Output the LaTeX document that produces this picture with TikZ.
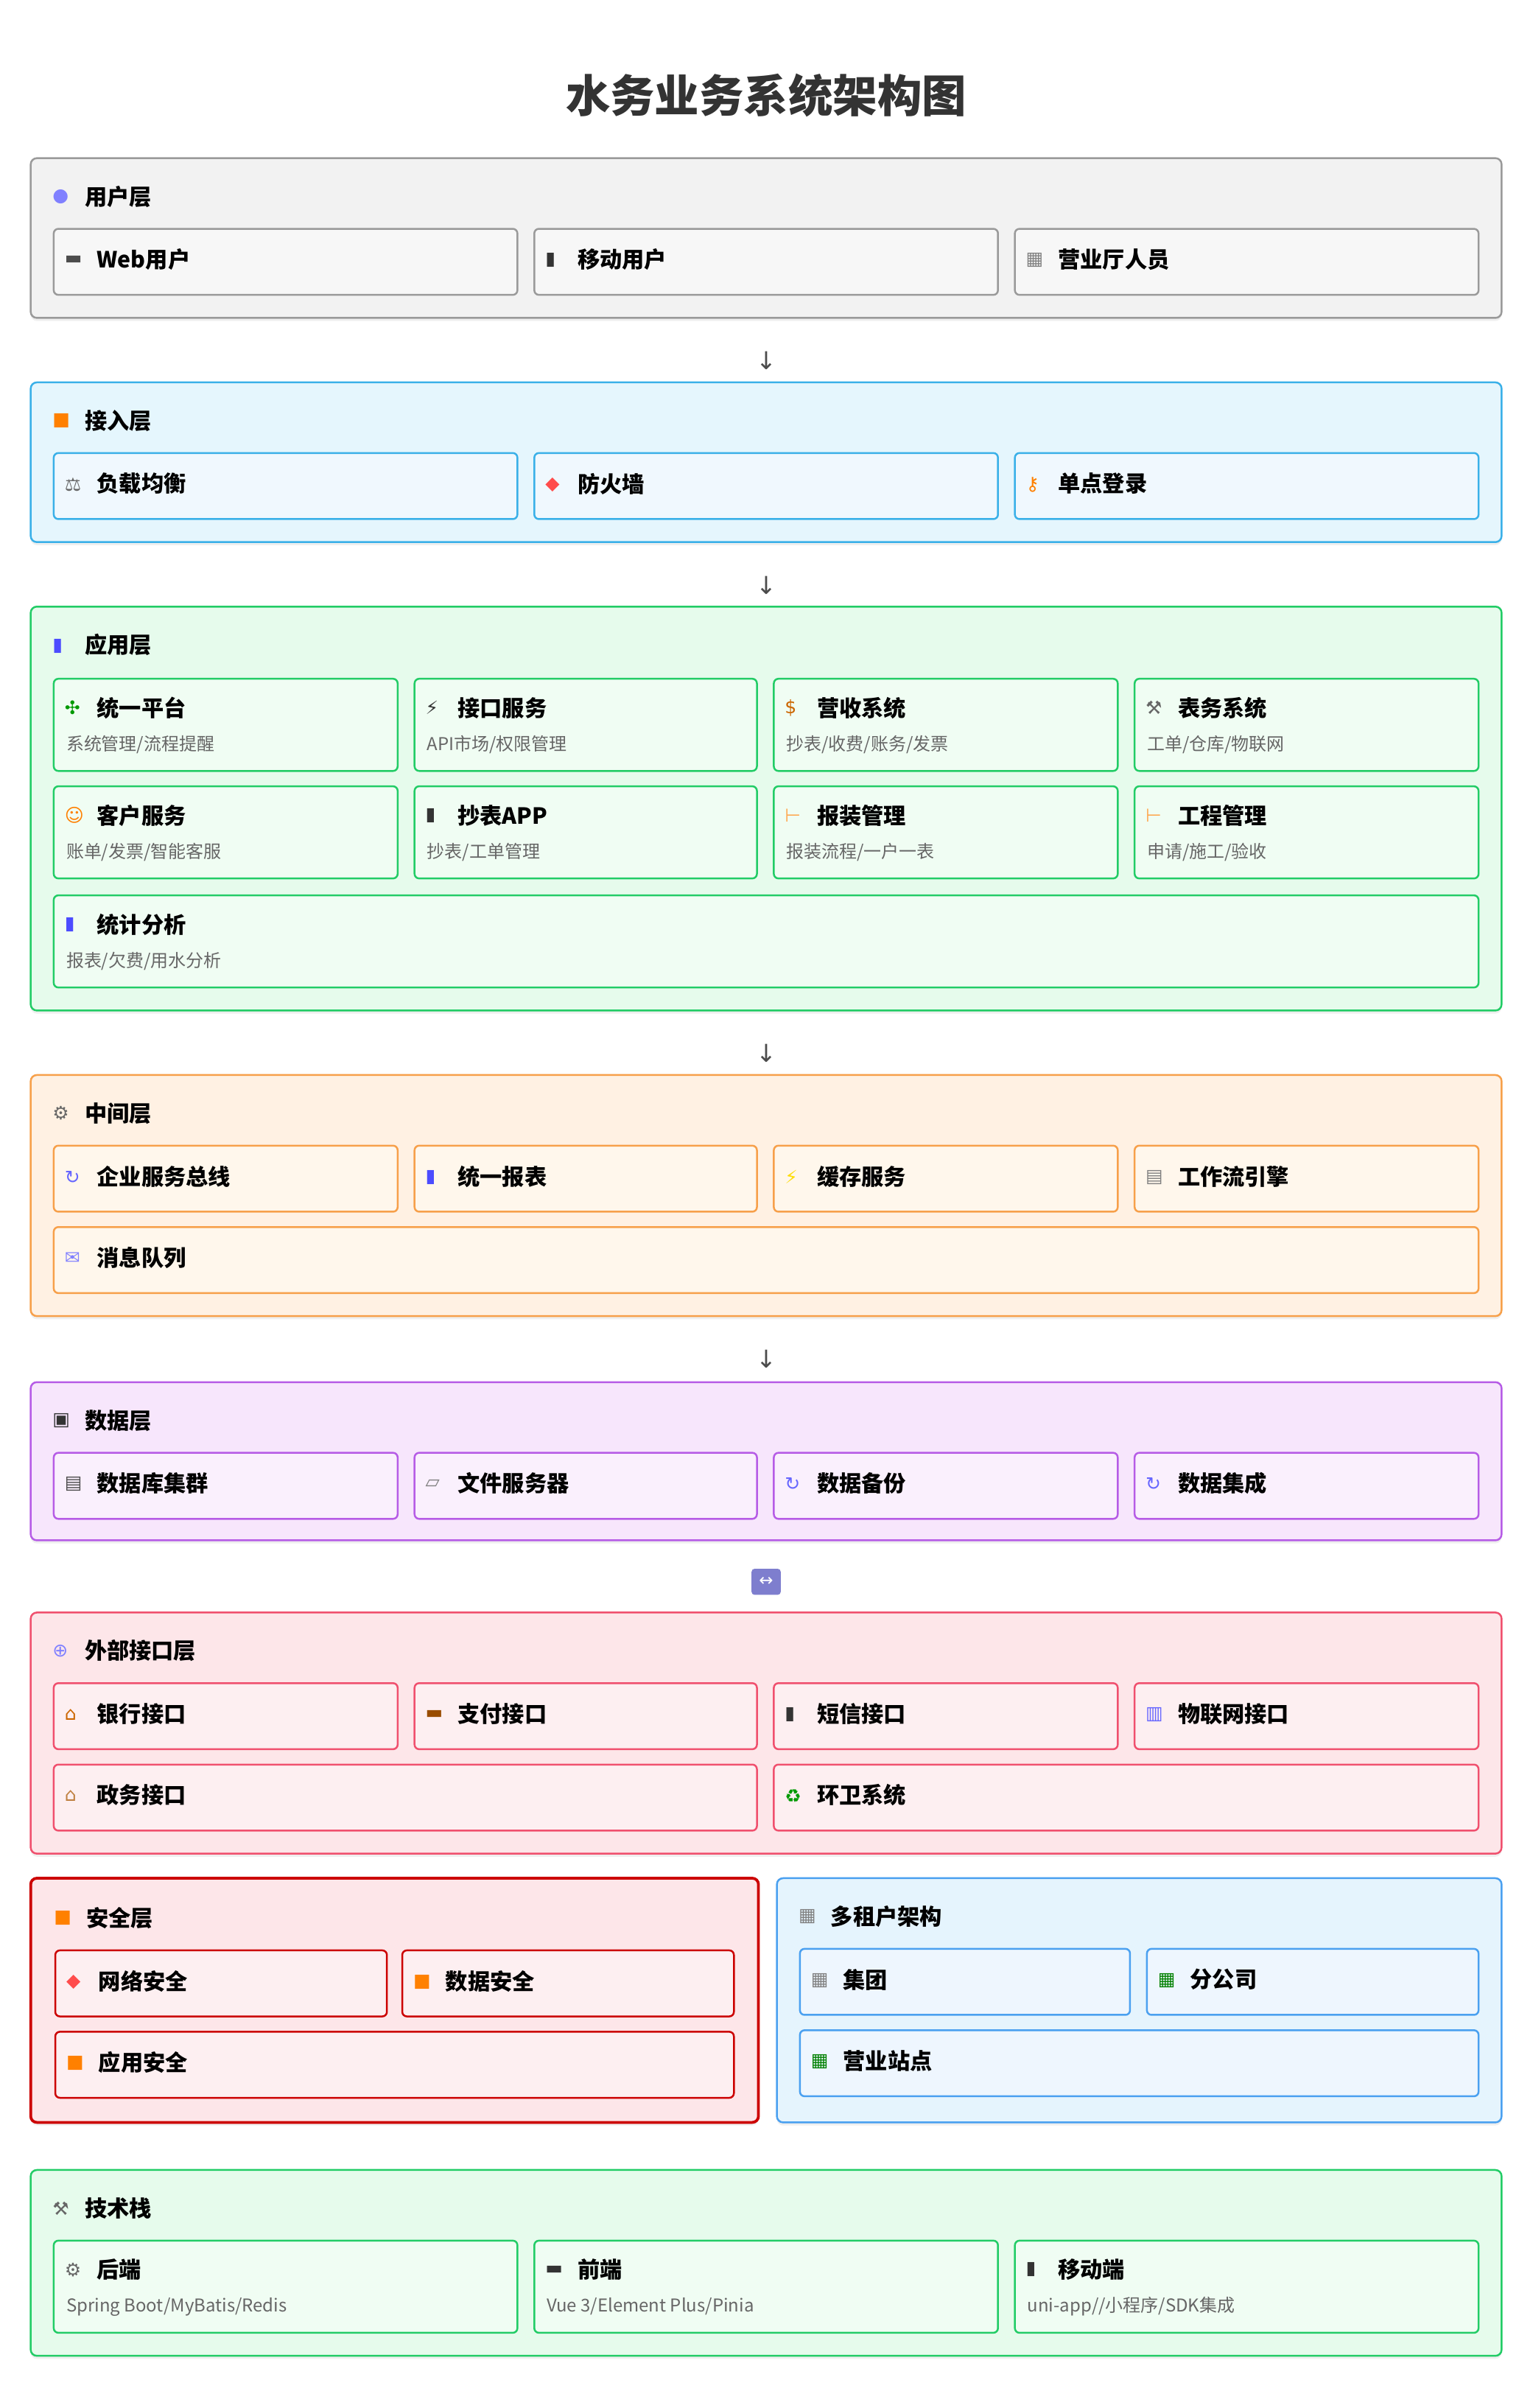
\documentclass[tikz,border=0pt]{standalone}
\usepackage{fontspec}
\setmainfont{Noto Sans CJK SC}
\newfontfamily\sym{DejaVu Sans}
\usetikzlibrary{shadows}
\definecolor{gB}{HTML}{9A9A9A}\definecolor{gF}{HTML}{F2F2F2}\definecolor{gI}{HTML}{F7F7F7}
\definecolor{cB}{HTML}{3AB0E8}\definecolor{cF}{HTML}{E5F6FD}\definecolor{cI}{HTML}{F0F8FE}
\definecolor{aB}{HTML}{22CC66}\definecolor{aF}{HTML}{E6FBEC}\definecolor{aI}{HTML}{F0FDF3}
\definecolor{mB}{HTML}{F7A04A}\definecolor{mF}{HTML}{FFF1E3}\definecolor{mI}{HTML}{FFF7EC}
\definecolor{dB}{HTML}{B65CE6}\definecolor{dF}{HTML}{F7E6FC}\definecolor{dI}{HTML}{FAF0FD}
\definecolor{eB}{HTML}{F0506E}\definecolor{eF}{HTML}{FDE6E9}\definecolor{eI}{HTML}{FDEFF1}
\definecolor{sB}{HTML}{CC0000}
\definecolor{tB}{HTML}{4AA0F0}\definecolor{tF}{HTML}{E5F4FD}\definecolor{tI}{HTML}{EEF6FE}
\definecolor{sub}{HTML}{666666}
\tikzset{
 layer/.style={rounded corners=4pt,line width=1.2pt,drop shadow={opacity=0.12,shadow xshift=0pt,shadow yshift=-2pt}},
 inbox/.style={rounded corners=3pt,line width=1.2pt},
 ttl/.style={anchor=west,inner sep=0pt,font=\fontsize{14.5}{16}\selectfont\bfseries},
 stl/.style={anchor=west,inner sep=0pt,font=\fontsize{11.5}{13}\selectfont,text=sub},
 ico/.style={anchor=west,inner sep=0pt,font=\sym\fontsize{12}{13}\selectfont},
 arr/.style={anchor=center,inner sep=0pt,font=\sym\fontsize{16}{16}\selectfont,text=black!70}
}
\newcommand\bx[9]{%
 \draw[inbox,draw=#6,fill=#7] (#2,#3) rectangle (#4,#5);
 \node[ico] at (#2+7,{(#3+#5)/2-1}) {#8};
 \node[ttl] (#1) at (#2+28,{(#3+#5)/2-1.5}) {#9};}
\newcommand\bxs[9]{%
 \draw[inbox,draw=#6,fill=#7] (#2,#3) rectangle (#4,#5);
 \node[ico] at (#2+7,#3+19) {#8};
 \node[ttl] (#1) at (#2+28,#3+19) {#9};
 \bxsub{#1}{#2}{#3}}
\newcommand\bxsub[4]{\node[stl] (#1s) at (#2+8,#3+43) {#4};}
\newcommand\lay[8]{%
 \draw[layer,draw=#6,fill=#7] (#2,#3) rectangle (#4,#5);
 \node[ttl] (#1) at (#2+35,#3+25) {#8};}
\begin{document}
\begin{tikzpicture}[x=1pt,y=-1pt]
\useasboundingbox[fill=white] (0,0) rectangle (998,1568);
\node[font=\fontsize{29}{32}\selectfont\bfseries,text=black!80] (title) at (499,62) {水务业务系统架构图};
\lay{L1}{20}{103}{978}{207}{gB}{gF}{用户层}
\node[ico] at (34,128) {\textcolor{blue!50}{●}};
\bx{u1}{35}{149}{337}{192}{gB}{gI}{\textcolor{black!70}{▬}}{Web用户}
\bx{u2}{348}{149}{650}{192}{gB}{gI}{\textcolor{black!80}{▮}}{移动用户}
\bx{u3}{661}{149}{963}{192}{gB}{gI}{\textcolor{black!50}{▦}}{营业厅人员}
\node[arr] (a1) at (499,235) {↓};
\lay{L2}{20}{249}{978}{353}{cB}{cF}{接入层}
\node[ico] at (34,274) {\textcolor{orange}{■}};
\bx{c1}{35}{295}{337}{338}{cB}{cI}{\textcolor{black!60}{⚖}}{负载均衡}
\bx{c2}{348}{295}{650}{338}{cB}{cI}{\textcolor{red!70}{◆}}{防火墙}
\bx{c3}{661}{295}{963}{338}{cB}{cI}{\textcolor{orange}{⚷}}{单点登录}
\node[arr] (a2) at (499,381) {↓};
\lay{L3}{20}{395}{978}{658}{aB}{aF}{应用层}
\node[ico] at (34,421) {\textcolor{blue!70}{▮}};
\bxs{p1}{35}{442}{259}{502}{aB}{aI}{\textcolor{green!60!black}{✣}}{统一平台}{系统管理/流程提醒}
\bxs{p2}{270}{442}{493}{502}{aB}{aI}{\textcolor{black!80}{⚡}}{接口服务}{API市场/权限管理}
\bxs{p3}{504}{442}{728}{502}{aB}{aI}{\textcolor{orange!80!black}{\$}}{营收系统}{抄表/收费/账务/发票}
\bxs{p4}{739}{442}{963}{502}{aB}{aI}{\textcolor{black!60}{⚒}}{表务系统}{工单/仓库/物联网}
\bxs{p5}{35}{512}{259}{572}{aB}{aI}{\textcolor{orange}{☺}}{客户服务}{账单/发票/智能客服}
\bxs{p6}{270}{512}{493}{572}{aB}{aI}{\textcolor{black!80}{▮}}{抄表APP}{抄表/工单管理}
\bxs{p7}{504}{512}{728}{572}{aB}{aI}{\textcolor{orange!70}{⊢}}{报装管理}{报装流程/一户一表}
\bxs{p8}{739}{512}{963}{572}{aB}{aI}{\textcolor{orange!70}{⊢}}{工程管理}{申请/施工/验收}
\bxs{p9}{35}{583}{963}{643}{aB}{aI}{\textcolor{blue!70}{▮}}{统计分析}{报表/欠费/用水分析}
\node[arr] (a3) at (499,686) {↓};
\lay{L4}{20}{700}{978}{857}{mB}{mF}{中间层}
\node[ico] at (34,725) {\textcolor{black!60}{⚙}};
\bx{m1}{35}{746}{259}{789}{mB}{mI}{\textcolor{blue!60}{↻}}{企业服务总线}
\bx{m2}{270}{746}{493}{789}{mB}{mI}{\textcolor{blue!70}{▮}}{统一报表}
\bx{m3}{504}{746}{728}{789}{mB}{mI}{\textcolor{yellow!80!orange}{⚡}}{缓存服务}
\bx{m4}{739}{746}{963}{789}{mB}{mI}{\textcolor{black!50}{▤}}{工作流引擎}
\bx{m5}{35}{799}{963}{842}{mB}{mI}{\textcolor{blue!50}{✉}}{消息队列}
\node[arr] (a4) at (499,885) {↓};
\lay{L5}{20}{900}{978}{1003}{dB}{dF}{数据层}
\node[ico] at (34,925) {\textcolor{black!80}{▣}};
\bx{d1}{35}{946}{259}{989}{dB}{dI}{\textcolor{black!70}{▤}}{数据库集群}
\bx{d2}{270}{946}{493}{989}{dB}{dI}{\textcolor{black!50}{▱}}{文件服务器}
\bx{d3}{504}{946}{728}{989}{dB}{dI}{\textcolor{blue!60}{↻}}{数据备份}
\bx{d4}{739}{946}{963}{989}{dB}{dI}{\textcolor{blue!60}{↻}}{数据集成}
\node[draw=none,fill=blue!45!gray!70,rounded corners=2pt,minimum width=19pt,minimum height=17pt,inner sep=0pt,text=white,font=\sym\fontsize{11}{11}\selectfont] (a5) at (499,1030) {↔};
\lay{L6}{20}{1050}{978}{1207}{eB}{eF}{外部接口层}
\node[ico] at (34,1075) {\textcolor{blue!50}{⊕}};
\bx{e1}{35}{1096}{259}{1139}{eB}{eI}{\textcolor{orange!80!black}{⌂}}{银行接口}
\bx{e2}{270}{1096}{493}{1139}{eB}{eI}{\textcolor{orange!60!black}{▬}}{支付接口}
\bx{e3}{504}{1096}{728}{1139}{eB}{eI}{\textcolor{black!80}{▮}}{短信接口}
\bx{e4}{739}{1096}{963}{1139}{eB}{eI}{\textcolor{blue!60}{▥}}{物联网接口}
\bx{e5}{35}{1149}{493}{1192}{eB}{eI}{\textcolor{brown}{⌂}}{政务接口}
\bx{e6}{504}{1149}{963}{1192}{eB}{eI}{\textcolor{green!60!black}{♻}}{环卫系统}
\draw[layer,draw=sB,fill=eF,line width=1.8pt] (20,1223) rectangle (494,1382);
\node[ttl] (L7) at (56,1249) {安全层};
\node[ico] at (35,1249) {\textcolor{orange}{■}};
\bx{s1}{36}{1270}{252}{1313}{sB}{eI}{\textcolor{red!70}{◆}}{网络安全}
\bx{s2}{262}{1270}{478}{1313}{sB}{eI}{\textcolor{orange}{■}}{数据安全}
\bx{s3}{36}{1323}{478}{1366}{sB}{eI}{\textcolor{orange}{■}}{应用安全}
\lay{L8}{506}{1223}{978}{1382}{tB}{tF}{多租户架构}
\node[ico] at (520,1248) {\textcolor{black!50}{▦}};
\bx{t1}{521}{1269}{736}{1312}{tB}{tI}{\textcolor{black!50}{▦}}{集团}
\bx{t2}{747}{1269}{963}{1312}{tB}{tI}{\textcolor{green!50!black}{▦}}{分公司}
\bx{t3}{521}{1322}{963}{1365}{tB}{tI}{\textcolor{green!50!black}{▦}}{营业站点}
\lay{L9}{20}{1413}{978}{1534}{aB}{aF}{技术栈}
\node[ico] at (34,1438) {\textcolor{black!60}{⚒}};
\bxs{k1}{35}{1459}{337}{1519}{aB}{aI}{\textcolor{black!60}{⚙}}{后端}{Spring Boot/MyBatis/Redis}
\bxs{k2}{348}{1459}{650}{1519}{aB}{aI}{\textcolor{black!80}{▬}}{前端}{Vue 3/Element Plus/Pinia}
\bxs{k3}{661}{1459}{963}{1519}{aB}{aI}{\textcolor{black!80}{▮}}{移动端}{uni-app//小程序/SDK集成}
\end{tikzpicture}
\end{document}
